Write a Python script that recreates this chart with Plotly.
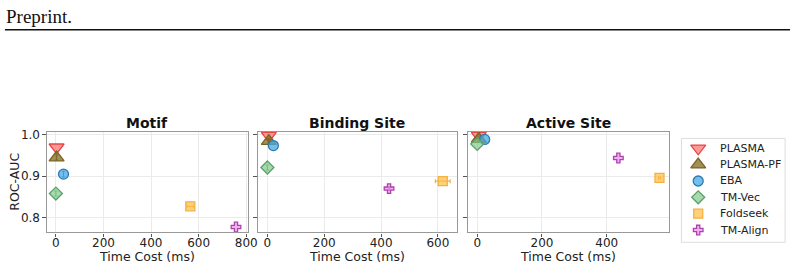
import plotly.graph_objects as go

panels = ["Motif", "Binding Site", "Active Site"]
methods = ["PLASMA", "PLASMA-PF", "EBA", "TM-Vec", "Foldseek", "TM-Align"]

# time cost (ms) per panel, per method
time_motif = [3, 3, 32, 0, 565, 757]
time_binding = [5, 5, 21, 0, 617, 428]
time_active = [5, 5, 23, 0, 563, 436]
# ROC-AUC per panel, per method
auc_motif = [0.970, 0.945, 0.905, 0.858, 0.827, 0.777]
auc_binding = [0.998, 0.985, 0.974, 0.921, 0.888, 0.870]
auc_active = [0.998, 0.990, 0.989, 0.978, 0.896, 0.944]
# time std (ms)
terr_motif = [0, 0, 0, 0, 14, 0]
terr_binding = [0, 0, 0, 0, 26, 0]
terr_active = [0, 0, 0, 0, 3, 0]
# ROC-AUC std
aerr_motif = [0.0, 0.006, 0.007, 0.006, 0.0, 0.0]
aerr_binding = [0.0, 0.005, 0.0, 0.006, 0.0, 0.004]
aerr_active = [0.0, 0.0, 0.0, 0.0, 0.0, 0.0]

times = [time_motif, time_binding, time_active]
aucs = [auc_motif, auc_binding, auc_active]
terrs = [terr_motif, terr_binding, terr_active]
aerrs = [aerr_motif, aerr_binding, aerr_active]

symbols = ["triangle-down", "triangle-up", "circle", "diamond", "square", "cross"]
sizes = [13, 13, 10, 10, 9, 8]
fills = ["rgba(255,85,85,0.6)", "rgba(125,100,25,0.72)", "rgba(70,170,225,0.75)",
         "rgba(130,200,140,0.7)", "rgba(255,190,70,0.7)", "rgba(220,130,220,0.6)"]
edges = ["#e84545", "#7a6420", "#2a7ab8", "#5aa26a", "#f5b040", "#b040b0"]

xranges = [[-37, 807], [-34, 668], [-28, 591]]
xticks = [[0, 200, 400, 600, 800], [0, 200, 400, 600], [0, 200, 400]]
xdomains = [[0.0593, 0.3122], [0.3246, 0.5759], [0.5896, 0.8420]]
ydomain = [1 - 232 / 268, 1 - 130 / 268]
yrange = [0.764, 1.008]

FONT = "DejaVu Sans"
fig = go.Figure()
for p in range(3):
    xa = "x" if p == 0 else f"x{p+1}"
    ya = "y" if p == 0 else f"y{p+1}"
    for m in range(len(methods)):
        fig.add_trace(go.Scatter(
            x=[times[p][m]], y=[aucs[p][m]], xaxis=xa, yaxis=ya,
            mode="markers", name=methods[m], showlegend=False,
            marker=dict(symbol=symbols[m], size=sizes[m], color=fills[m],
                        line=dict(color=edges[m], width=1.3)),
            error_x=dict(type="data", array=[terrs[p][m]], visible=terrs[p][m] > 0,
                         color=edges[m], thickness=1.2, width=2),
            error_y=dict(type="data", array=[aerrs[p][m]], visible=aerrs[p][m] > 0,
                         color=edges[m], thickness=1, width=1.5),
            cliponaxis=True,
        ))

# legend drawn on its own hidden axes (x4/y4)
leg_x0, leg_x1 = 690 / 804, 795 / 804
leg_y0, leg_y1 = 1 - 242 / 268, 1 - 137 / 268
for m in range(len(methods)):
    fig.add_trace(go.Scatter(
        x=[17], y=[m], xaxis="x4", yaxis="y4", mode="markers", showlegend=False,
        hoverinfo="skip",
        marker=dict(symbol=symbols[m], size=sizes[m], color=fills[m],
                    line=dict(color=edges[m], width=1.3)),
    ))

axis_common = dict(showline=True, linecolor="#999999", linewidth=1.4, mirror=True,
                   showgrid=True, gridcolor="#ebebeb", gridwidth=1, zeroline=False,
                   ticks="outside", ticklen=3.5, tickcolor="#555555",
                   tickfont=dict(family=FONT, size=12, color="#222222"))
layout = dict()
for p in range(3):
    xk = "xaxis" if p == 0 else f"xaxis{p+1}"
    yk = "yaxis" if p == 0 else f"yaxis{p+1}"
    layout[xk] = dict(axis_common, domain=xdomains[p], range=xranges[p],
                      tickvals=xticks[p], anchor="y" if p == 0 else f"y{p+1}",
                      ticklabelstandoff=-5)
    layout[yk] = dict(axis_common, domain=ydomain, range=yrange,
                      tickvals=[0.8, 0.9, 1.0], ticktext=["0.8", "0.9", "1.0"],
                      showticklabels=(p == 0), anchor="x" if p == 0 else f"x{p+1}")
layout["xaxis4"] = dict(domain=[leg_x0, leg_x1], range=[0, 105], visible=False,
                        anchor="y4", fixedrange=True)
layout["yaxis4"] = dict(domain=[leg_y0, leg_y1], range=[5.75, -0.6], visible=False,
                        anchor="x4", fixedrange=True)

annotations = [
    dict(text="Preprint.", x=4 / 804, y=1 - 1 / 268, xref="paper", yref="paper",
         xanchor="left", yanchor="top", showarrow=False,
         font=dict(family="Liberation Serif", size=19, color="#111111")),
    dict(text="ROC-AUC", x=15 / 804, y=sum(ydomain) / 2, xref="paper", yref="paper",
         xanchor="center", yanchor="middle", textangle=-90, showarrow=False,
         font=dict(family=FONT, size=12.5, color="#222222")),
]
for p in range(3):
    annotations.append(dict(text=f"<b>{panels[p]}</b>", x=sum(xdomains[p]) / 2,
                            y=ydomain[1], xref="paper", yref="paper",
                            xanchor="center", yanchor="bottom", yshift=-1, showarrow=False,
                            font=dict(family=FONT, size=14, color="#111111")))
    annotations.append(dict(text="Time Cost (ms)", x=sum(xdomains[p]) / 2,
                            y=1 - 256 / 268, xref="paper", yref="paper",
                            xanchor="center", yanchor="middle", showarrow=False,
                            font=dict(family=FONT, size=12.5, color="#222222")))
for m in range(len(methods)):
    annotations.append(dict(text=methods[m], x=37, y=m, xref="x4", yref="y4",
                            xanchor="left", yanchor="middle", showarrow=False,
                            font=dict(family=FONT, size=11, color="#222222")))

fig.update_layout(
    width=804, height=268, autosize=False, margin=dict(l=0, r=0, t=0, b=0),
    paper_bgcolor="white", plot_bgcolor="white",
    annotations=annotations,
    shapes=[dict(type="line", xref="paper", yref="paper", x0=5 / 804, x1=800 / 804,
                 y0=1 - 27 / 268, y1=1 - 27 / 268, line=dict(color="#111111", width=1.5)),
            dict(type="rect", xref="paper", yref="paper", x0=leg_x0, x1=leg_x1,
                 y0=leg_y0, y1=leg_y1, line=dict(color="#dddddd", width=1),
                 fillcolor="rgba(0,0,0,0)", layer="below")],
    showlegend=False,
    **layout,
)

fig.write_html("out.html", config={"responsive": False})
